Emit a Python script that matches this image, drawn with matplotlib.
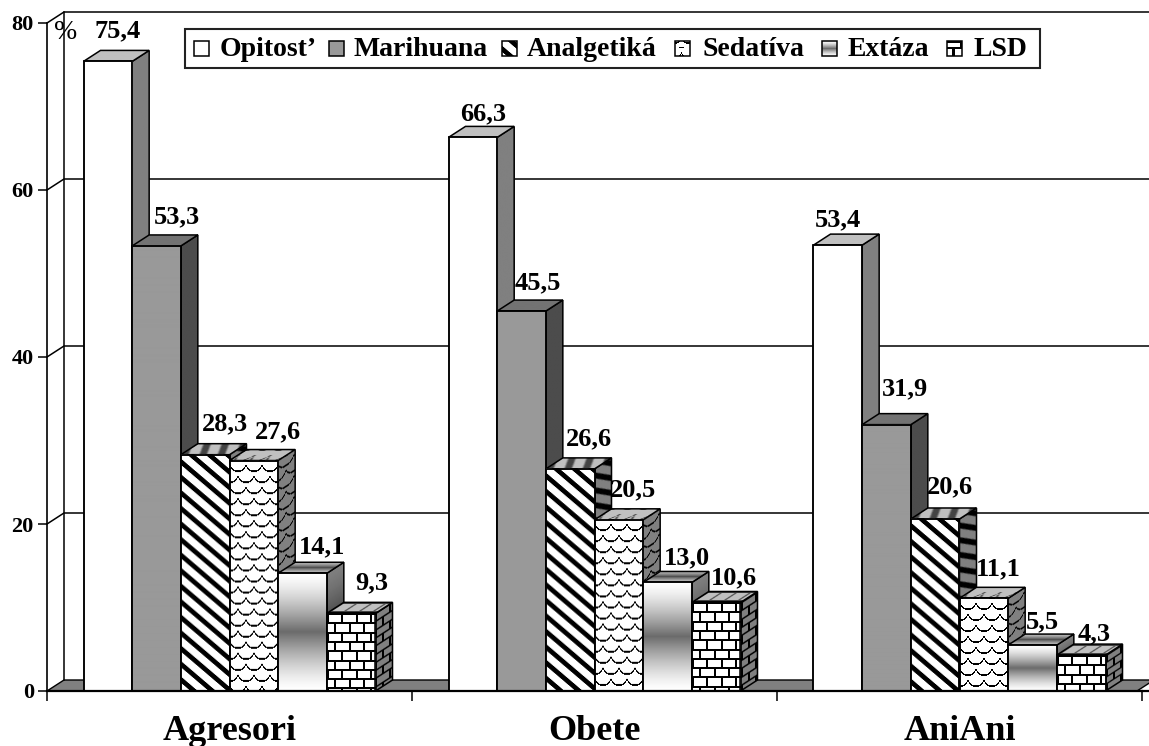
import numpy as np
import matplotlib
matplotlib.use('Agg')
import matplotlib.pyplot as plt
from matplotlib.patches import Polygon, Rectangle
from matplotlib.transforms import Affine2D

# data
categories = ['Agresori', 'Obete', 'AniAni']
series = ['Opitost’', 'Marihuana', 'Analgetiká', 'Sedatíva', 'Extáza', 'LSD']
opitost = [75.4, 66.3, 53.4]
marihuana = [53.3, 45.5, 31.9]
analgetika = [28.3, 26.6, 20.6]
sedativa = [27.6, 20.5, 11.1]
extaza = [14.1, 13.0, 5.5]
lsd = [9.3, 10.6, 4.3]
values = [opitost, marihuana, analgetika, sedativa, extaza, lsd]
y_ticks = [0, 20, 40, 60, 80]

# label offsets in pixels, one list per series
label_dx = [[10, 10, 0], [20, 16, 19], [20, 19, 15], [24, 14, 14], [20, 19, 10], [21, 18, 13]]
label_dy = [[31, 24, 25], [29, 28, 36], [31, 30, 32], [29, 30, 30], [26, 25, 23], [31, 25, 21]]
kinds = ['white', 'gray', 'diag', 'scale', 'grad', 'brick']

plt.rcParams['font.family'] = ['Liberation Serif', 'DejaVu Serif']
W, H = 1149, 746
fig = plt.figure(figsize=(W / 100, H / 100), dpi=100)
x0, x3, y0, y80 = 47, 1142, 691, 23
ax = fig.add_axes([x0 / W, (H - y0) / H, (x3 - x0) / W, (y0 - y80) / H])
px_x = (x3 - x0) / 3
px_y = (y0 - y80) / 80
dx = 17 / px_x   # depth of the fake 3d
dy = 11 / px_y


def to_data(x, y):
    return (x - x0) / px_x, (y0 - y) / px_y


def pattern(kind, w, h):
    w, h = max(int(round(w)), 2), max(int(round(h)), 2)
    y, x = np.mgrid[0:h, 0:w] + 0.5
    if kind == 'white':
        return np.ones((h, w))
    if kind == 'gray':
        return np.full((h, w), 0.6)
    if kind == 'diag':
        d = np.abs((x * 0.85 - y) % 15.5 - 7.75)
        return np.clip(d - 2.6, 0, 1)
    if kind == 'grad':
        t = y / h
        return 1 - 0.58 * (1 - np.abs(2 * t - 1)) ** 1.4
    if kind == 'brick':
        row = (y // 9.3).astype(int)
        black = (y % 9.3 < 2) | ((x + (row % 2) * 7.2) % 14.5 < 2)
        return np.where(black, 0.0, 1.0)
    # scallops
    img = np.ones((h, w))
    for r in range(int(h / 11) + 1, -2, -1):
        cy = r * 11
        u = (x + (r % 2) * 8) % 16 - 8
        d = np.sqrt(u ** 2 + ((y - cy) * 0.8) ** 2)
        below = y >= cy
        img[(d < 9) & below] = 1
        img[(np.abs(d - 9) < 0.6) & below] = 0
    return img


def face(img, origin, ex, ey, z):
    tr = Affine2D.from_values(ex[0], ex[1], ey[0], ey[1], origin[0], origin[1]) + ax.transData
    ax.imshow(img, extent=(0, 1, 0, 1), origin='upper', cmap='gray', vmin=0, vmax=1,
              aspect='auto', interpolation='bilinear', transform=tr, zorder=z, clip_on=False)
    pts = [origin, (origin[0] + ex[0], origin[1] + ex[1]),
           (origin[0] + ex[0] + ey[0], origin[1] + ex[1] + ey[1]),
           (origin[0] + ey[0], origin[1] + ey[1])]
    ax.add_patch(Polygon(pts, closed=True, fc='none', ec='black', lw=1.1, zorder=z + 0.01, clip_on=False))


# walls, floor, grid
right, _ = to_data(W + 5, 0)
ax.add_patch(Polygon([(0, 0), (dx, dy), (right, dy), (right - dx, 0)], closed=True,
                     fc='#808080', ec='black', lw=1, zorder=1, clip_on=False))
for v in y_ticks[1:]:
    ax.plot([0, dx, right], [v, v + dy, v + dy], color='black', lw=1.1, zorder=2, clip_on=False)
ax.plot([dx, dx], [dy, 80 + dy], color='black', lw=1.1, zorder=2, clip_on=False)

# bars
bw = 1 / 7.5
centers = np.arange(len(categories)) + 0.5
for i, vals in enumerate(values):
    xs = centers + (i - 2.5) * bw
    z = 10 + i
    kind = kinds[i]
    for x, v in zip(xs, vals):
        h_px = v * px_y
        left = x - bw / 2
        # side, top, then front
        side = pattern(kind, 17, h_px + 11)
        top = pattern(kind, bw * px_x, 11)
        if kind in ('diag', 'scale', 'brick'):
            top = 0.35 + 0.65 * top
        face(side * 0.5, (left + bw, 0), (dx, dy), (0, v), z)
        face(top * 0.75, (left, v), (bw, 0), (dx, dy), z + 0.1)
        face(pattern(kind, bw * px_x, h_px), (left, 0), (bw, 0), (0, v), z + 0.2)
    ax.bar(xs, vals, width=bw, fc='none', ec='black', lw=1.1, zorder=z + 0.3, clip_on=False)
    for j, v in enumerate(vals):
        ax.annotate(f'{v:.1f}'.replace('.', ','), xy=(xs[j], v), xytext=(label_dx[i][j], label_dy[i][j]),
                    textcoords='offset pixels', ha='center', va='center', fontsize=19,
                    fontweight='bold', zorder=50, annotation_clip=False)

# axes
ax.set_xlim(0, 3)
ax.set_ylim(0, 80)
for s in ['top', 'right']:
    ax.spines[s].set_visible(False)
ax.spines['left'].set_linewidth(1.2)
ax.spines['bottom'].set_linewidth(1.6)
ax.spines['bottom'].set_zorder(30)
ax.plot([3, right], [0, 0], color='black', lw=1.6, zorder=30, clip_on=False)
ax.set_yticks(y_ticks)
ax.set_yticklabels([str(v) for v in y_ticks], fontsize=16, fontweight='bold')
ax.tick_params(axis='y', length=6.5, width=1.1, pad=3)
ax.set_xticks(range(4))
ax.set_xticklabels([])
ax.tick_params(axis='x', which='major', length=7, width=1.1)
ax.set_xticks(centers, minor=True)
ax.set_xticklabels(categories, minor=True, fontsize=26, fontweight='bold')
ax.tick_params(axis='x', which='minor', length=0, pad=17)

px, py = to_data(66, 33)
ax.text(px, py, '%', fontsize=20, ha='center', va='center', zorder=50)

# legend, built by hand because of the patterned swatches
lx0, ly0 = to_data(185, 68)
lx1, ly1 = to_data(1040, 29)
ax.add_patch(Rectangle((lx0, ly0), lx1 - lx0, ly1 - ly0, fc='white', ec='#222222', lw=1.5, zorder=40, clip_on=False))
swatch_x = [194, 329, 502, 675, 822, 947]
text_x = [220, 353, 527, 702, 848, 973]
for i, name in enumerate(series):
    sx, sy = to_data(swatch_x[i], 56)
    img = pattern(kinds[i], 15, 15)
    if kinds[i] in ('brick', 'scale'):
        img = np.roll(img, (6, 6), axis=(0, 1))
    face(img, (sx, sy), (15 / px_x, 0), (0, 15 / px_y), 41)
    tx, ty = to_data(text_x[i], 50)
    ax.text(tx, ty, name, fontsize=20, fontweight='bold', ha='left', va='center', zorder=42)

fig.savefig('out.png', dpi=100)
